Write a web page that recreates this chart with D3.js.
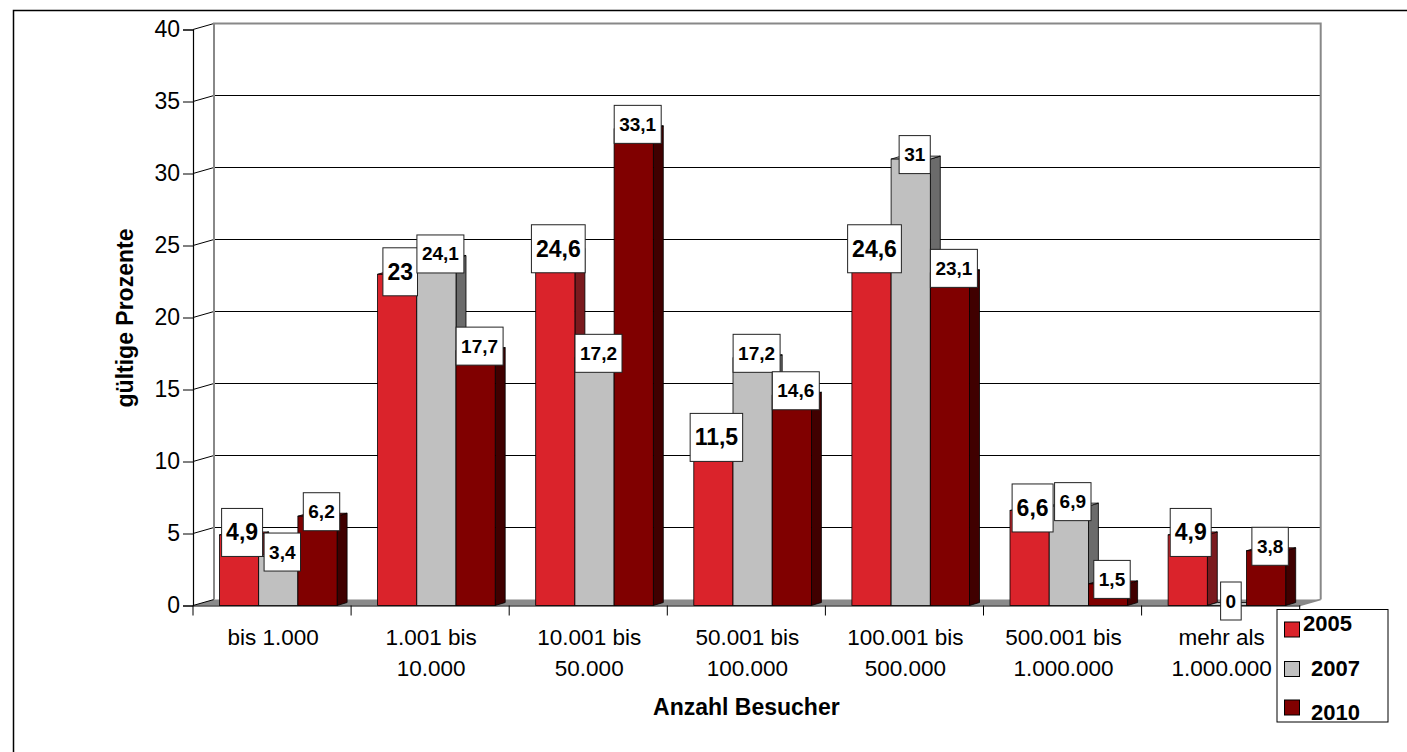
<!DOCTYPE html>
<html><head><meta charset="utf-8">
<script src="https://cdn.jsdelivr.net/npm/d3@7"></script>
<style>
html,body{margin:0;padding:0;background:#fff;}
svg{display:block;font-family:"Liberation Sans",Arial,sans-serif;}
</style></head>
<body>
<svg id="chart" width="1407" height="752"></svg>
<script>
const categories = [
  ["bis 1.000"],
  ["1.001 bis","10.000"],
  ["10.001 bis","50.000"],
  ["50.001 bis","100.000"],
  ["100.001 bis","500.000"],
  ["500.001 bis","1.000.000"],
  ["mehr als","1.000.000"]
];
const seriesNames = ["2005","2007","2010"];
const values2005 = [4.9, 23, 24.6, 11.5, 24.6, 6.6, 4.9];
const values2007 = [3.4, 24.1, 17.2, 17.2, 31, 6.9, 0];
const values2010 = [6.2, 17.7, 33.1, 14.6, 23.1, 1.5, 3.8];
const yTicks = [0,5,10,15,20,25,30,35,40];
const xTitle = "Anzahl Besucher";
const yTitle = "gültige Prozente";

const seriesValues = [values2005, values2007, values2010];
const frontColors = ["#DA232B","#C0C0C0","#800000"];
const sideColors = ["#7A1A1E","#6B6B6B","#400000"];

const svg = d3.select("#chart");
const FONT = '"Liberation Sans", Arial, sans-serif';

// outer frame
svg.append("rect").attr("x",13.5).attr("y",10.5).attr("width",1450).attr("height",800)
  .attr("fill","none").attr("stroke","#000").attr("stroke-width",1.5);

const x0 = 193, x1 = 1299.7;
const y = d3.scaleLinear().domain([0,40]).range([605.5, 29.5]);
const DX = 21, DY = -6;      // wall depth
const bdx = 10, bdy = -3;    // bar depth

const xBand = d3.scaleBand().domain(d3.range(categories.length)).range([x0,x1]).padding(0);
const inner = d3.scaleBand().domain(d3.range(seriesNames.length)).range([26.5, 26.5+117.6]).padding(0);

// floor
svg.append("path")
  .attr("d", `M${x0},${y(0)} L${x1},${y(0)} L${x1+DX},${y(0)+DY} L${x0+DX},${y(0)+DY} Z`)
  .attr("fill","#8a8a8a").attr("stroke","none");

// back wall gridlines & diagonals
const g = svg.append("g");
yTicks.forEach(t => {
  if (t > 0 && t < 40) {
    g.append("line").attr("x1",x0+DX).attr("x2",x1+DX).attr("y1",y(t)+DY).attr("y2",y(t)+DY)
      .attr("stroke","#000").attr("stroke-width",1);
  }
  g.append("line").attr("x1",x0).attr("x2",x0+DX).attr("y1",y(t)).attr("y2",y(t)+DY)
    .attr("stroke","#000").attr("stroke-width",1);
});
// wall outline (gray)
g.append("path")
  .attr("d", `M${x0+DX},${y(0)+DY} L${x0+DX},${y(40)+DY} L${x1+DX},${y(40)+DY} L${x1+DX},${y(0)+DY}`)
  .attr("fill","none").attr("stroke","#888").attr("stroke-width",2);
g.append("line").attr("x1",x1).attr("x2",x1+DX).attr("y1",y(0)).attr("y2",y(0)+DY)
  .attr("stroke","#888").attr("stroke-width",1.5);

// y axis
const yAxis = d3.axisLeft(y).tickValues(yTicks).tickSize(10).tickPadding(3).tickFormat(d3.format("d"));
const ya = svg.append("g").attr("transform",`translate(${x0},0)`).call(yAxis);
ya.select(".domain").attr("stroke","#000").attr("stroke-width",1.2);
ya.selectAll(".tick line").attr("stroke","#000");
ya.selectAll(".tick text").attr("font-size",23).attr("font-family",FONT).attr("fill","#000");

// x axis
const xAxis = d3.axisBottom(xBand).tickSize(0).tickFormat("");
const xa = svg.append("g").attr("transform",`translate(0,${y(0)})`).call(xAxis);
xa.select(".domain").attr("stroke","#000").attr("stroke-width",1.2);
d3.range(categories.length+1).forEach(i => {
  const xx = i < categories.length ? xBand(i) : x1;
  svg.append("line").attr("x1",xx).attr("x2",xx).attr("y1",y(0)).attr("y2",y(0)+10)
    .attr("stroke","#000").attr("stroke-width",1);
});
categories.forEach((lines,i) => {
  const cx = xBand(i) + xBand.bandwidth()/2 + 1;
  const t = svg.append("text").attr("x",cx).attr("text-anchor","middle")
    .attr("font-size",22.5).attr("font-family",FONT).attr("fill","#000");
  lines.forEach((ln,k) => {
    t.append("tspan").attr("x",cx).attr("y",645 + k*31).text(ln);
  });
});

// bars
const bars = svg.append("g");
categories.forEach((c,i) => {
  seriesValues.forEach((vals,s) => {
    const v = vals[i];
    const bx = xBand(i) + inner(s), bw = inner.bandwidth();
    const yt = y(v), yb = y(0);
    bars.append("path")
      .attr("d",`M${bx+bw},${yb} L${bx+bw+bdx},${yb+bdy} L${bx+bw+bdx},${yt+bdy} L${bx+bw},${yt} Z`)
      .attr("fill",sideColors[s]).attr("stroke","#000").attr("stroke-width",0.8);
    bars.append("path")
      .attr("d",`M${bx},${yt} L${bx+bdx},${yt+bdy} L${bx+bw+bdx},${yt+bdy} L${bx+bw},${yt} Z`)
      .attr("fill",frontColors[s]).attr("stroke","#000").attr("stroke-width",0.8);
    bars.append("rect").attr("x",bx).attr("y",yt).attr("width",bw).attr("height",yb-yt)
      .attr("fill",frontColors[s]).attr("stroke","#000").attr("stroke-width",0.8);
  });
});

// labels
const labels = svg.append("g");
categories.forEach((c,i) => {
  seriesValues.forEach((vals,s) => {
    const v = vals[i];
    const bx = xBand(i) + inner(s), bw = inner.bandwidth();
    const big = s === 0;
    const fs = big ? 23 : 19;
    const h = big ? 48 : 38;
    const pad = big ? 4.5 : 5;
    const cx = bx + bw/2 + (big ? 3 : 4);
    const cy = y(v) - (big ? 2.5 : 4.5);
    const txt = String(v).replace(".", ",");
    const t = labels.append("text").attr("x",cx).attr("y",cy).attr("text-anchor","middle")
      .attr("dominant-baseline","central").attr("font-size",fs).attr("font-weight","bold")
      .attr("font-family",FONT).attr("fill","#000").text(txt);
    const w = t.node().getComputedTextLength() + 2*pad;
    labels.insert("rect", () => t.node()).attr("x",cx - w/2).attr("y",cy - h/2).attr("width",w).attr("height",h)
      .attr("fill","#fff").attr("stroke","#222").attr("stroke-width",1);
  });
});

// axis titles
svg.append("text").attr("x",(x0+x1)/2).attr("y",715).attr("text-anchor","middle")
  .attr("font-size",23).attr("font-weight","bold").attr("font-family",FONT).text(xTitle);
svg.append("text").attr("transform","translate(133,318) rotate(-90)").attr("text-anchor","middle")
  .attr("font-size",23).attr("font-weight","bold").attr("font-family",FONT).text(yTitle);

// legend
const lg = svg.append("g");
lg.append("rect").attr("x",1277).attr("y",609.5).attr("width",111).attr("height",112.5)
  .attr("fill","#fff").attr("stroke","#000").attr("stroke-width",1);
const legPos = [{sy:622, tx:1303, ty:631},{sy:661.5, tx:1311, ty:676},{sy:700, tx:1311, ty:720}];
seriesNames.forEach((n,s) => {
  lg.append("rect").attr("x",1284.5).attr("y",legPos[s].sy).attr("width",15).attr("height",15)
    .attr("fill",frontColors[s]).attr("stroke","#000").attr("stroke-width",1);
  lg.append("text").attr("x",legPos[s].tx).attr("y",legPos[s].ty).attr("font-size",22)
    .attr("font-weight","bold").attr("font-family",FONT).text(n);
});
</script>
</body></html>
